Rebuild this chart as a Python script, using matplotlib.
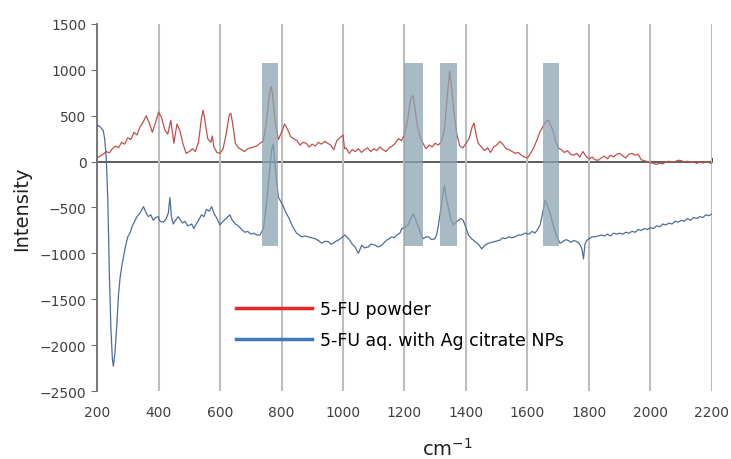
import matplotlib
matplotlib.use("Agg")
import matplotlib.pyplot as plt
from matplotlib.lines import Line2D
from matplotlib.patches import Rectangle

# 5-FU powder spectrum (wavenumber, intensity)
powder_x = [200, 210, 220, 230, 240, 250, 260, 270, 280, 290, 300, 310, 320, 330, 340, 350, 360, 370, 380, 390,
            400, 410, 420, 430, 440, 450, 460, 470, 480, 490, 500, 510, 520, 530, 540, 545, 550, 560, 570, 575,
            580, 590, 600, 610, 620, 630, 635, 640, 650, 660, 670, 680, 690, 700, 710, 720, 730, 740, 750, 760,
            766, 770, 780, 790, 800, 810, 820, 830, 840, 850, 860, 870, 880, 890, 900, 910, 920, 930, 940, 950,
            960, 970, 980, 990, 1000, 1005, 1010, 1020, 1030, 1040, 1050, 1060, 1070, 1080, 1090, 1100, 1110,
            1120, 1130, 1140, 1150, 1160, 1170, 1180, 1190, 1200, 1210, 1220, 1228, 1235, 1240, 1250, 1260,
            1270, 1280, 1290, 1300, 1310, 1320, 1330, 1340, 1347, 1355, 1360, 1370, 1380, 1390, 1400, 1410,
            1420, 1426, 1435, 1440, 1450, 1460, 1470, 1480, 1490, 1500, 1510, 1520, 1530, 1540, 1550, 1560,
            1570, 1580, 1590, 1600, 1610, 1620, 1630, 1640, 1650, 1660, 1668, 1675, 1685, 1690, 1700, 1710,
            1720, 1730, 1740, 1750, 1760, 1770, 1780, 1790, 1800, 1810, 1820, 1830, 1840, 1850, 1860, 1870,
            1880, 1890, 1900, 1910, 1920, 1930, 1940, 1950, 1960, 1970, 1980, 1990, 2000, 2010, 2020, 2030,
            2040, 2050, 2060, 2070, 2080, 2090, 2100, 2110, 2120, 2130, 2140, 2150, 2160, 2170, 2180, 2190, 2200]
powder_y = [40, 60, 80, 110, 95, 140, 170, 150, 210, 190, 260, 240, 320, 290, 380, 430, 500, 420, 320, 420,
            540, 480, 350, 300, 450, 200, 410, 330, 190, 90, 110, 140, 110, 210, 480, 560, 470, 250, 210, 280,
            160, 100, 90, 140, 300, 510, 525, 440, 200, 150, 130, 110, 140, 150, 160, 170, 200, 220, 400, 720,
            820, 760, 420, 240, 320, 410, 350, 270, 250, 230, 180, 210, 200, 160, 190, 170, 210, 190, 220, 200,
            180, 130, 230, 260, 290, 140, 150, 90, 130, 110, 140, 100, 130, 150, 110, 140, 120,
            160, 130, 110, 150, 170, 200, 250, 230, 290, 450, 680, 720, 560, 420, 270, 200,
            140, 180, 160, 200, 180, 220, 350, 750, 990, 750, 560, 300, 170, 150, 200, 250,
            380, 420, 260, 200, 160, 120, 150, 100, 160, 180, 220, 190, 140, 130, 110, 90,
            100, 70, 50, 40, 90, 150, 230, 320, 380, 440, 450, 400, 320, 230, 150, 130,
            100, 120, 80, 70, 90, 50, 110, 60, 30, 50, 20, 15, 40, 60, 30, 70,
            50, 80, 90, 60, 40, 80, 90, 70, 80, 20, 10, 0, -10, -20, -30, -15,
            -25, -5, 5, -10, 0, 15, 10, -5, 5, -10, 0, -20, -5, -15, 0, -10, -20]

# 5-FU aq. with Ag citrate NPs spectrum
agnp_x = [200, 210, 220, 225, 230, 235, 240, 245, 250, 253, 258, 264, 270, 275, 280, 291, 300, 307, 315, 324,
          330, 340, 351, 360, 367, 375, 383, 390, 399, 405, 416, 425, 432, 437, 442, 448, 455, 464, 470, 478,
          486, 495, 502, 508, 515, 519, 530, 540, 548, 556, 565, 573, 580, 590, 600, 610, 620, 632, 640, 650,
          660, 670, 681, 690, 700, 710, 720, 730, 741, 750, 760, 768, 773, 778, 785, 790, 800, 806, 815, 825,
          835, 849, 858, 866, 875, 887, 898, 909, 920, 931, 940, 952, 960, 968, 976, 985, 995, 1006, 1015,
          1023, 1030, 1039, 1050, 1055, 1061, 1070, 1082, 1090, 1104, 1115, 1126, 1135, 1142, 1150, 1158,
          1167, 1175, 1185, 1191, 1200, 1212, 1220, 1229, 1237, 1245, 1253, 1261, 1270, 1278, 1288, 1299,
          1305, 1310, 1318, 1325, 1330, 1336, 1342, 1350, 1359, 1367, 1375, 1383, 1391, 1400, 1408, 1418,
          1429, 1440, 1451, 1462, 1473, 1484, 1494, 1505, 1511, 1520, 1527, 1540, 1550, 1559, 1570, 1580,
          1592, 1605, 1615, 1624, 1633, 1641, 1650, 1657, 1665, 1673, 1681, 1689, 1697, 1706, 1716, 1725,
          1733, 1742, 1750, 1760, 1770, 1777, 1782, 1787, 1792, 1800, 1810, 1820, 1830, 1840, 1850, 1860,
          1870, 1880, 1890, 1900, 1910, 1920, 1930, 1940, 1950, 1960, 1970, 1980, 1990, 2000, 2010, 2020,
          2030, 2040, 2050, 2060, 2070, 2080, 2090, 2100, 2110, 2120, 2130, 2140, 2150, 2160, 2170, 2180,
          2190, 2200]
agnp_y = [400, 380, 340, 250, 50, -400, -1200, -1800, -2150, -2230, -2100, -1800, -1450, -1270, -1150, -950, -820, -780, -700, -640,
          -600, -560, -490, -560, -600, -580, -640, -610, -600, -650, -660, -620, -560, -390, -600, -680, -640, -600, -630, -670,
          -650, -700, -690, -680, -730, -700, -640, -580, -600, -520, -540, -490, -560, -620, -690, -650, -620, -580, -640, -680,
          -700, -740, -770, -760, -790, -780, -800, -800, -730, -500, -150, 130, 190, 0, -250, -390, -450, -490, -560, -620,
          -700, -780, -800, -820, -810, -820, -830, -840, -860, -890, -870, -870, -900, -890, -870, -855, -830, -800, -830,
          -860, -900, -930, -1000, -960, -910, -940, -930, -900, -910, -930, -910, -880, -855, -840, -820,
          -830, -800, -780, -730, -720, -690, -620, -570, -640, -710, -790, -840, -820, -820, -850, -840,
          -790, -700, -520, -350, -260, -400, -490, -620, -690, -660, -640, -620, -640, -720, -800, -840,
          -870, -900, -950, -910, -890, -880, -870, -860, -855, -830, -840, -820, -830, -820, -800, -800,
          -780, -790, -760, -780, -740, -690, -550, -420, -480, -560, -660, -750, -830, -890, -870, -850,
          -860, -880, -860, -870, -900, -950, -1060, -900, -860, -840, -820, -820, -810, -800, -810, -790,
          -810, -780, -790, -780, -790, -770, -780, -760, -770, -740, -750, -730, -740, -720, -730, -700,
          -710, -680, -690, -670, -680, -650, -660, -640, -650, -620, -640, -610, -620, -600, -610, -580,
          -590, -570]

# highlighted bands (start, end) in cm-1
band_start = [737, 1200, 1316, 1650]
band_end = [790, 1259, 1371, 1703]
band_low = -920
band_high = 1070

fig = plt.figure(figsize=(7.31, 4.60), dpi=100)
ax = fig.add_axes([0.1327, 0.1478, 0.8413, 0.7979])

ax.plot(powder_x, powder_y, color="#c0504d", lw=0.9, zorder=3)
ax.plot(agnp_x, agnp_y, color="#4f6d9a", lw=0.9, zorder=3)

for s, e in zip(band_start, band_end):
    ax.add_patch(Rectangle((s, band_low), e - s, band_high - band_low,
                           facecolor="#8ba3af", alpha=0.75, lw=0, zorder=4))

ax.set_xlim(200, 2200)
ax.set_ylim(-2500, 1500)
ax.set_xticks(range(200, 2201, 200))
ax.set_yticks(range(-2500, 1501, 500))

# vertical grid only
ax.grid(axis="x", color="#bdbdbd", lw=1.5, zorder=1)
ax.set_axisbelow(True)

for side in ["top", "right", "bottom"]:
    ax.spines[side].set_visible(False)
ax.spines["left"].set_color("#707070")
ax.spines["left"].set_linewidth(1.3)

ax.tick_params(axis="y", length=4, color="#707070", labelsize=10, labelcolor="#404040")
ax.tick_params(axis="x", length=0, labelsize=10, labelcolor="#404040", pad=10)

# zero line with small ticks
zero = ax.secondary_xaxis(2500 / 4000)
zero.set_xticks(range(200, 2201, 200))
zero.tick_params(length=3, width=1.2, color="#303030", labelbottom=False, labeltop=False)
zero.spines["bottom"].set_color("#505050")
zero.spines["bottom"].set_linewidth(1.3)
zero.spines["top"].set_color("#505050")
zero.spines["top"].set_linewidth(1.3)

ax.set_ylabel("Intensity", fontsize=14, color="#202020", labelpad=6)
ax.set_xlabel("cm$^{-1}$", fontsize=14, color="#202020", labelpad=9)
ax.xaxis.set_label_coords(0.569, -0.125)

handles = [Line2D([], [], color="#e8262a", lw=2.5),
           Line2D([], [], color="#3f7ab8", lw=2.5)]
ax.legend(handles, ["5-FU powder", "5-FU aq. with Ag citrate NPs"],
          loc="upper left", bbox_to_anchor=(0.2, 0.29), frameon=False,
          fontsize=12.5, handlelength=4.4, handletextpad=0.45, labelspacing=0.75)

fig.savefig("out.png", dpi=100)
